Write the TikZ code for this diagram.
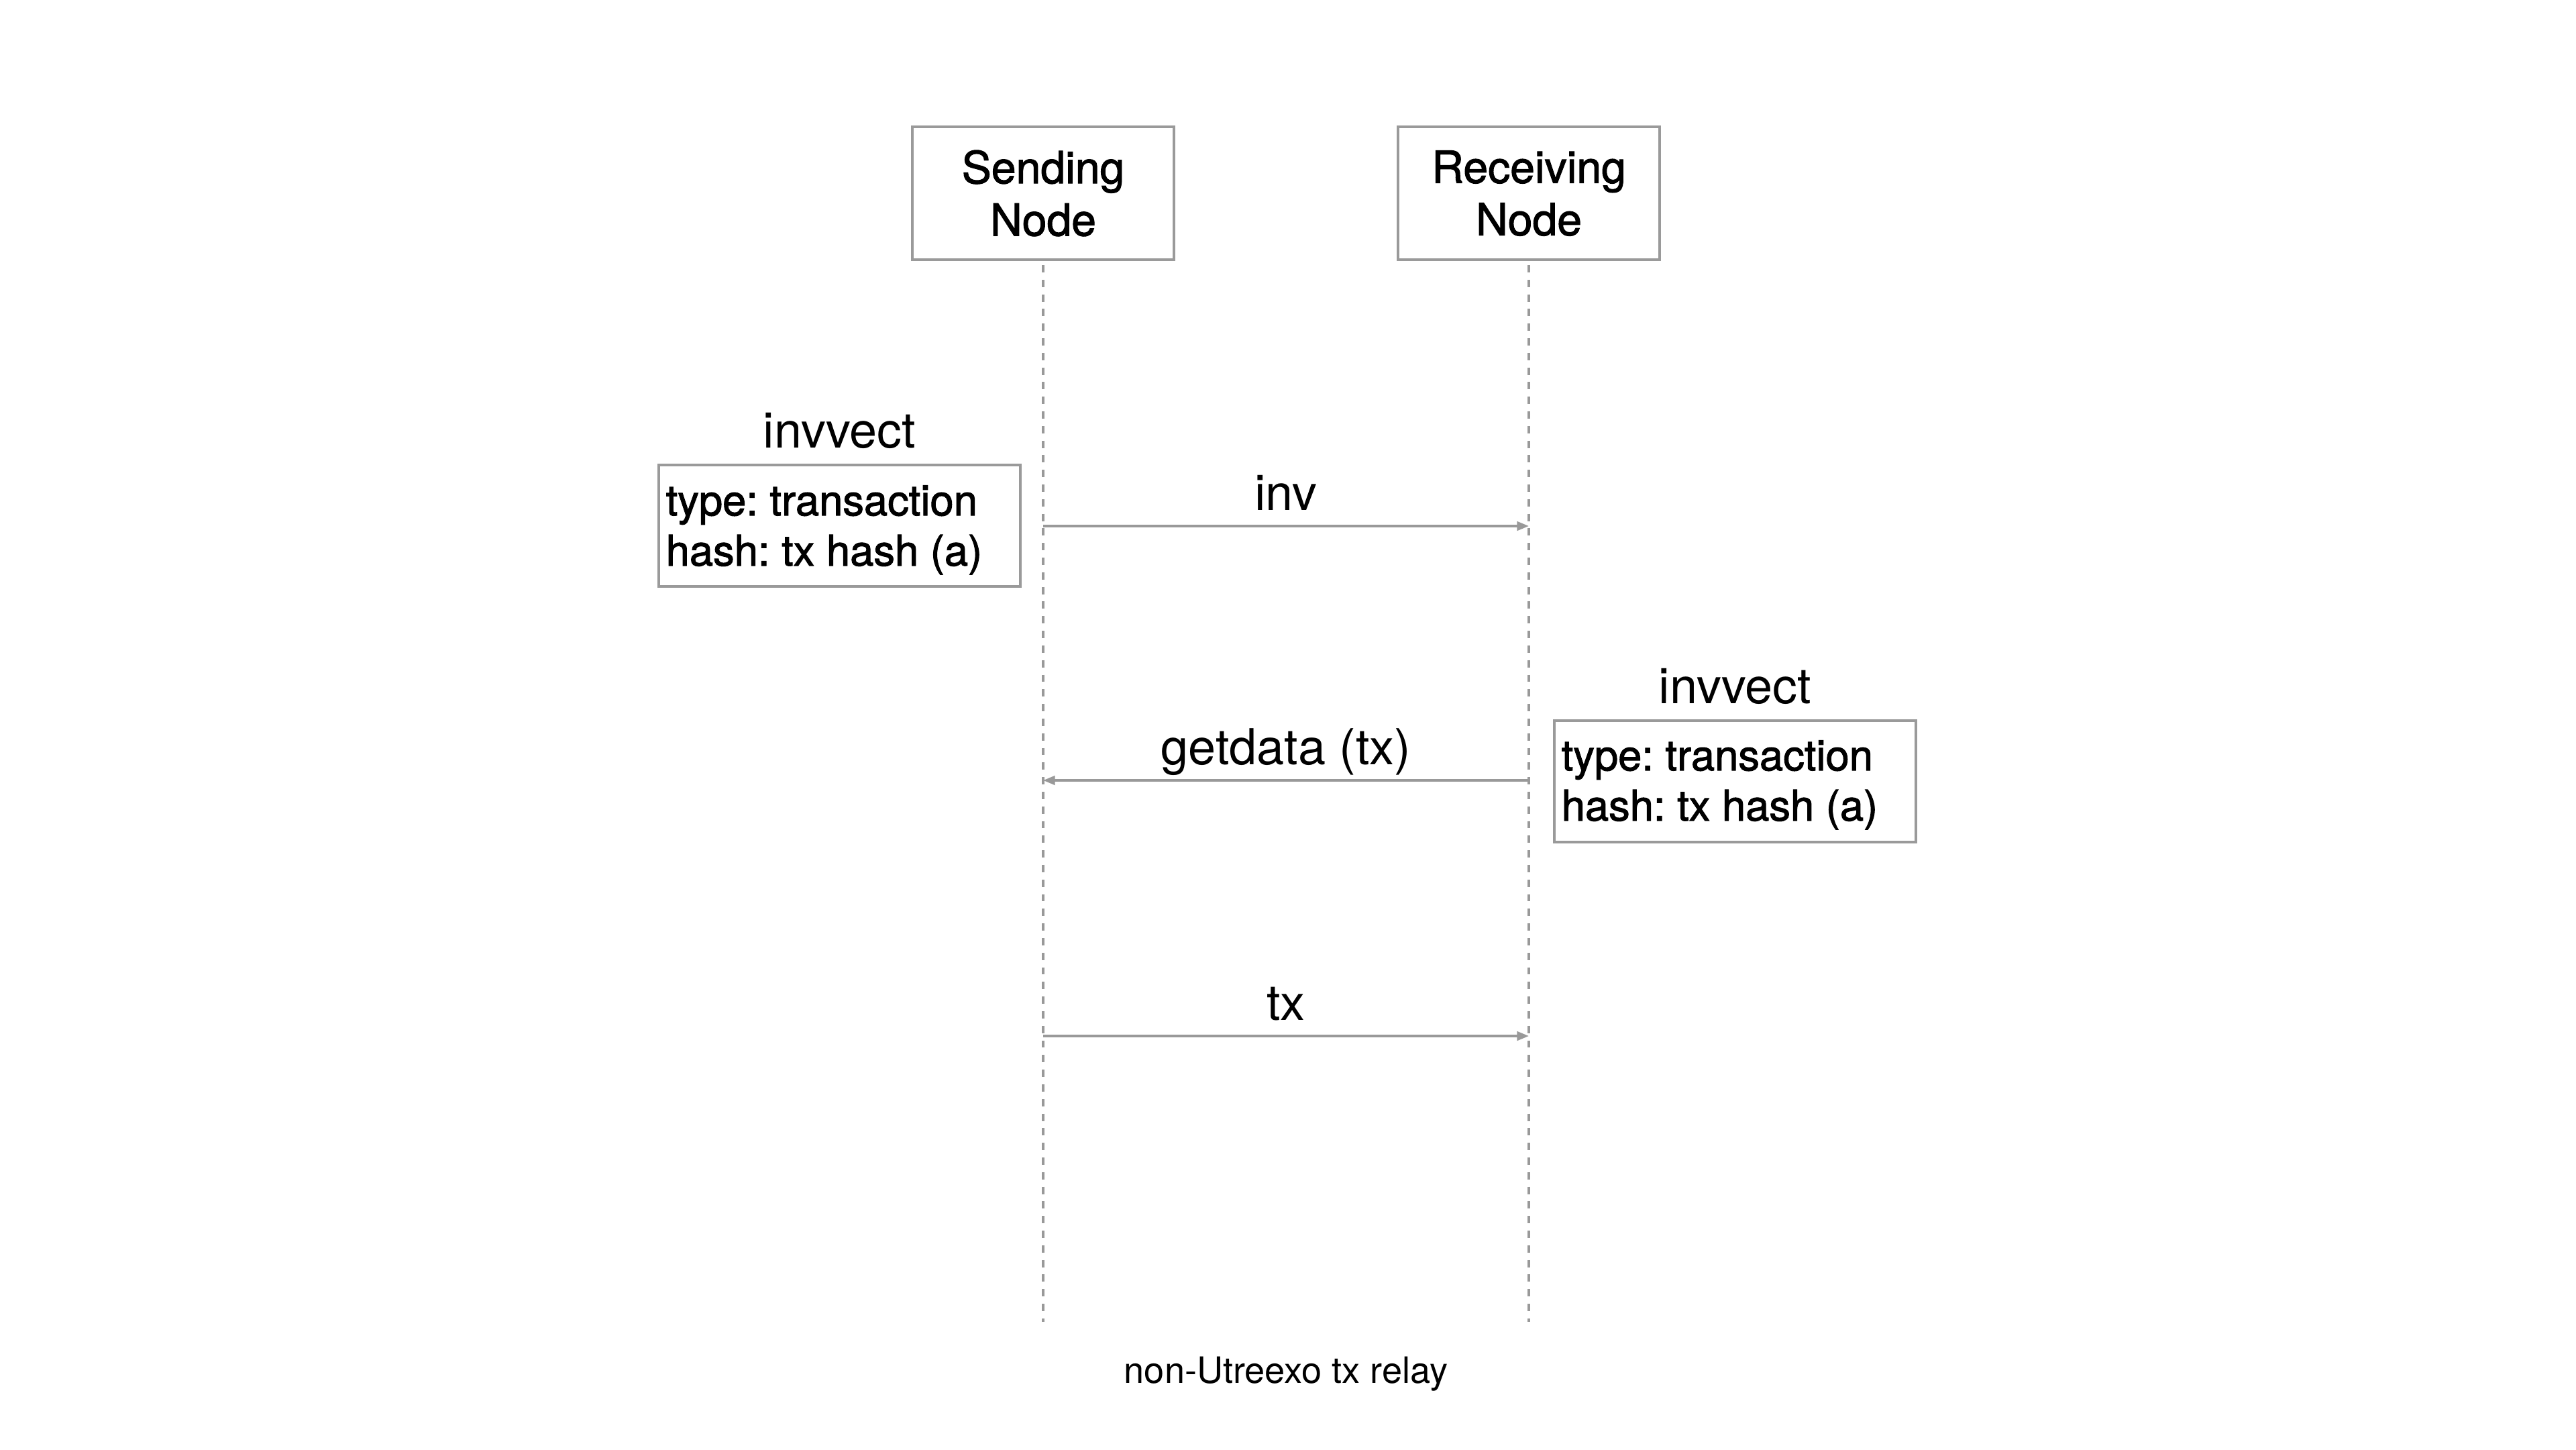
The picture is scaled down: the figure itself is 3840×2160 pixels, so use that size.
\documentclass[tikz,border=0pt]{standalone}
\usepackage{fontspec}
\setmainfont{TeX Gyre Heros}
\newfontfamily\medfont{TeX Gyre Heros}[FakeBold=1.6]
\usetikzlibrary{arrows.meta}
\definecolor{boxgray}{HTML}{9A9A9A}
\definecolor{linegray}{HTML}{999999}
\frenchspacing
\tikzset{
  actor/.style={draw=boxgray, line width=1.3pt, minimum width=3.9cm, minimum height=1.98cm,
    align=center, inner sep=0pt, font=\medfont\fontsize{18.8}{22.2}\selectfont},
  vecbox/.style={draw=boxgray, line width=1.2pt, minimum width=5.39cm, minimum height=1.81cm,
    inner sep=0pt},
  vectext/.style={anchor=base west, inner sep=0pt, align=left,
    font=\medfont\fontsize{18}{21.3}\selectfont},
  msglabel/.style={anchor=base, inner sep=0pt, font=\fontsize{21}{25}\selectfont},
  caplabel/.style={anchor=base, inner sep=0pt, font=\fontsize{15.4}{18}\selectfont},
  lifeline/.style={draw=linegray, line width=0.9pt, dash pattern=on 3.1pt off 3.1pt},
  msg/.style={draw=linegray, line width=1pt, -{Triangle[length=5pt,width=3.8pt]}}
}
\begin{document}
\begin{tikzpicture}[x=0.01cm,y=-0.01cm]
\useasboundingbox (0,0) rectangle (3840,2160);
\fill[white] (0,0) rectangle (3840,2160);

% actors
\node[actor] (snd) at (1555,288) {Sending\\Node};
\node[actor] (rcv) at (2279,288) {Receiving\\Node};

% lifelines
\coordinate (sTop) at (1555,395);
\coordinate (sBot) at (1555,1970);
\coordinate (rTop) at (2279,395);
\coordinate (rBot) at (2279,1970);
\draw[lifeline] (sTop) -- (sBot);
\draw[lifeline] (rTop) -- (rBot);

% message anchors on lifelines
\coordinate (s1) at (1555,784);
\coordinate (r1) at (2279,784);
\coordinate (s2) at (1555,1163);
\coordinate (r2) at (2279,1163);
\coordinate (s3) at (1555,1544);
\coordinate (r3) at (2279,1544);

% messages
\draw[msg] (s1) -- (r1);
\node[msglabel] (lInv) at (1917,760) {inv};
\draw[msg] (r2) -- (s2);
\node[msglabel] (lGet) at (1917,1139) {getdata (tx)};
\draw[msg] (s3) -- (r3);
\node[msglabel] (lTx) at (1917,1520) {tx};

% inventory vectors
\node[vecbox] (v1) at (1251.5,783.5) {};
\node[vectext] (v1txt) at (992,843) {type: transaction\\hash: tx hash (a)};
\node[msglabel] (v1t) at (1251.5,667) {invvect};
\node[vecbox] (v2) at (2586.5,1164.5) {};
\node[vectext] (v2txt) at (2327,1223) {type: transaction\\hash: tx hash (a)};
\node[msglabel] (v2t) at (2586.5,1048) {invvect};

% caption
\node[caplabel] (cap) at (1917,2061) {non-Utreexo tx relay};
\end{tikzpicture}
\end{document}
